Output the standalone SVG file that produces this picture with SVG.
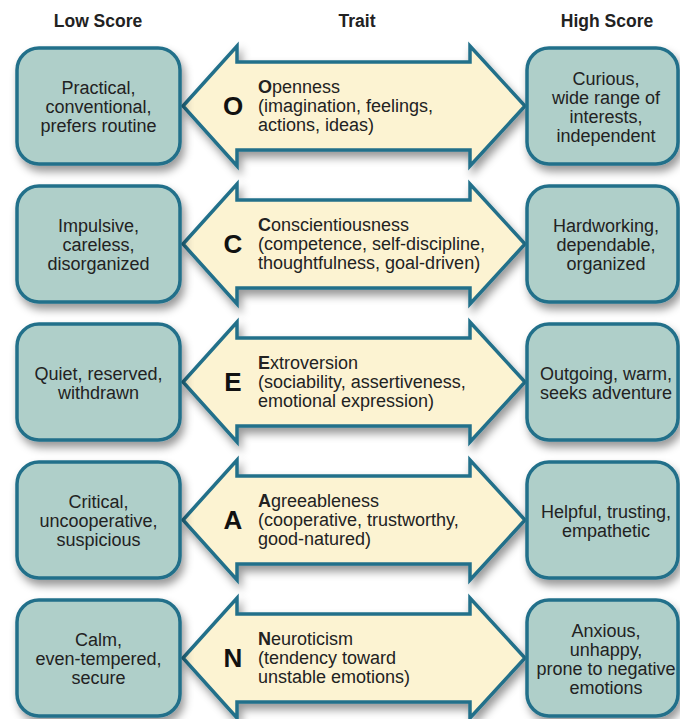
<svg xmlns="http://www.w3.org/2000/svg" width="680" height="719" viewBox="0 0 680 719">
<defs>
<filter id="sh" x="-20%" y="-20%" width="140%" height="150%">
<feDropShadow dx="3" dy="6" stdDeviation="4.5" flood-color="#000" flood-opacity="0.4"/>
</filter>
<path id="arrow" d="M183,0 L237,-60 L237,-44 L470,-44 L470,-60 L525,0 L470,60 L470,44 L237,44 L237,60 Z"/>
</defs>
<style>
text{font-family:"Liberation Sans",Arial,sans-serif;fill:#222}
.hdr{font-size:17.5px;font-weight:bold;text-anchor:middle}
.box{fill:#afcfc9;stroke:#22708a;stroke-width:3.5;filter:url(#sh)}
.arr{fill:#fcf3d2;stroke:#22708a;stroke-width:3.5;stroke-linejoin:miter;filter:url(#sh)}
.bt{font-size:18px;text-anchor:middle}
.tt{font-size:18px}
.lt{font-size:26px;font-weight:bold;text-anchor:middle;fill:#111}
.b{font-weight:bold}
</style>
<rect width="680" height="719" fill="#fff"/>
<g id="headers">
<text class="hdr" x="98" y="27">Low Score</text>
<text class="hdr" x="357" y="27">Trait</text>
<text class="hdr" x="607" y="27">High Score</text>
</g>
<g id="connectors"></g>

<!-- Row 1: c=106 -->
<g id="trait-O" transform="translate(0,106)">
<use href="#arrow" class="arr"/>
<text class="lt" x="233" y="9">O</text>
<text class="tt" x="258" y="-13"><tspan class="b">O</tspan>penness</text>
<text class="tt" x="258" y="6">(imagination, feelings,</text>
<text class="tt" x="258" y="25">actions, ideas)</text>
</g>
<g id="low-O" transform="translate(0,106)">
<rect class="box" x="17" y="-58" width="163" height="116" rx="22"/>
<text class="bt" x="98.5" y="-12">Practical,</text>
<text class="bt" x="98.5" y="7">conventional,</text>
<text class="bt" x="98.5" y="26">prefers routine</text>
</g>
<g id="high-O" transform="translate(0,106)">
<rect class="box" x="527" y="-58" width="151" height="116" rx="22"/>
<text class="bt" x="606" y="-21.5">Curious,</text>
<text class="bt" x="606" y="-2.5">wide range of</text>
<text class="bt" x="606" y="16.5">interests,</text>
<text class="bt" x="606" y="35.5">independent</text>
</g>

<!-- Row 2: c=244 -->
<g id="trait-C" transform="translate(0,244)">
<use href="#arrow" class="arr"/>
<text class="lt" x="233" y="9">C</text>
<text class="tt" x="258" y="-13"><tspan class="b">C</tspan>onscientiousness</text>
<text class="tt" x="258" y="6">(competence, self-discipline,</text>
<text class="tt" x="258" y="25">thoughtfulness, goal-driven)</text>
</g>
<g id="low-C" transform="translate(0,244)">
<rect class="box" x="17" y="-58" width="163" height="116" rx="22"/>
<text class="bt" x="98.5" y="-12">Impulsive,</text>
<text class="bt" x="98.5" y="7">careless,</text>
<text class="bt" x="98.5" y="26">disorganized</text>
</g>
<g id="high-C" transform="translate(0,244)">
<rect class="box" x="527" y="-58" width="151" height="116" rx="22"/>
<text class="bt" x="606" y="-12">Hardworking,</text>
<text class="bt" x="606" y="7">dependable,</text>
<text class="bt" x="606" y="26">organized</text>
</g>

<!-- Row 3: c=382 -->
<g id="trait-E" transform="translate(0,382)">
<use href="#arrow" class="arr"/>
<text class="lt" x="233" y="9">E</text>
<text class="tt" x="258" y="-13"><tspan class="b">E</tspan>xtroversion</text>
<text class="tt" x="258" y="6">(sociability, assertiveness,</text>
<text class="tt" x="258" y="25">emotional expression)</text>
</g>
<g id="low-E" transform="translate(0,382)">
<rect class="box" x="17" y="-58" width="163" height="116" rx="22"/>
<text class="bt" x="98.5" y="-2.5">Quiet, reserved,</text>
<text class="bt" x="98.5" y="16.5">withdrawn</text>
</g>
<g id="high-E" transform="translate(0,382)">
<rect class="box" x="527" y="-58" width="151" height="116" rx="22"/>
<text class="bt" x="606" y="-2.5">Outgoing, warm,</text>
<text class="bt" x="606" y="16.5">seeks adventure</text>
</g>

<!-- Row 4: c=520 -->
<g id="trait-A" transform="translate(0,520)">
<use href="#arrow" class="arr"/>
<text class="lt" x="233" y="9">A</text>
<text class="tt" x="258" y="-13"><tspan class="b">A</tspan>greeableness</text>
<text class="tt" x="258" y="6">(cooperative, trustworthy,</text>
<text class="tt" x="258" y="25">good-natured)</text>
</g>
<g id="low-A" transform="translate(0,520)">
<rect class="box" x="17" y="-58" width="163" height="116" rx="22"/>
<text class="bt" x="98.5" y="-12">Critical,</text>
<text class="bt" x="98.5" y="7">uncooperative,</text>
<text class="bt" x="98.5" y="26">suspicious</text>
</g>
<g id="high-A" transform="translate(0,520)">
<rect class="box" x="527" y="-58" width="151" height="116" rx="22"/>
<text class="bt" x="606" y="-2.5">Helpful, trusting,</text>
<text class="bt" x="606" y="16.5">empathetic</text>
</g>

<!-- Row 5: c=658 -->
<g id="trait-N" transform="translate(0,658)">
<use href="#arrow" class="arr"/>
<text class="lt" x="233" y="9">N</text>
<text class="tt" x="258" y="-13"><tspan class="b">N</tspan>euroticism</text>
<text class="tt" x="258" y="6">(tendency toward</text>
<text class="tt" x="258" y="25">unstable emotions)</text>
</g>
<g id="low-N" transform="translate(0,658)">
<rect class="box" x="17" y="-58" width="163" height="116" rx="22"/>
<text class="bt" x="98.5" y="-12">Calm,</text>
<text class="bt" x="98.5" y="7">even-tempered,</text>
<text class="bt" x="98.5" y="26">secure</text>
</g>
<g id="high-N" transform="translate(0,658)">
<rect class="box" x="527" y="-58" width="151" height="116" rx="22"/>
<text class="bt" x="606" y="-21.5">Anxious,</text>
<text class="bt" x="606" y="-2.5">unhappy,</text>
<text class="bt" x="606" y="16.5">prone to negative</text>
<text class="bt" x="606" y="35.5">emotions</text>
</g>
</svg>
